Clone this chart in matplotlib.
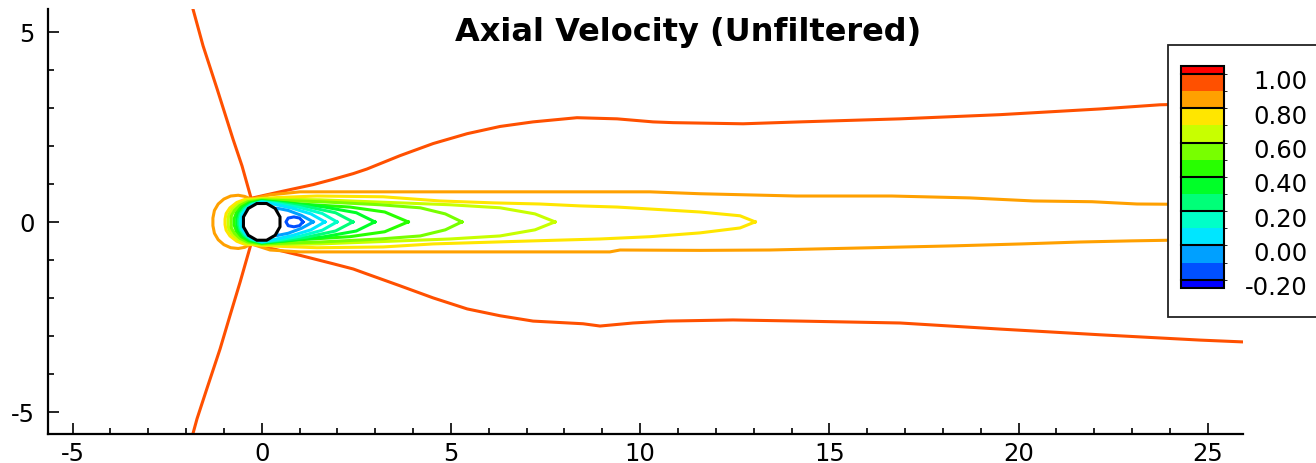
import matplotlib.pyplot as plt
import numpy as np
from matplotlib.colors import ListedColormap, BoundaryNorm
from matplotlib.cm import ScalarMappable
from matplotlib.patches import Rectangle, RegularPolygon
from matplotlib.ticker import MultipleLocator
from matplotlib.transforms import offset_copy

plt.rcParams['font.family'] = ['DejaVu Sans']
plt.rcParams['axes.unicode_minus'] = False

# legend levels and colours (Tecplot-like rainbow)
cb_bounds = [-0.2, -0.1, 0.0, 0.1, 0.2, 0.3, 0.4, 0.5, 0.6, 0.7, 0.8, 0.9, 1.0]
cb_ticks = [-0.2, 0.0, 0.2, 0.4, 0.6, 0.8, 1.0]
band_colors = ['#0050ff', '#00a0ff', '#00e6ff', '#00ffc8', '#00ff78', '#00ff28',
               '#28ff00', '#78ff00', '#c8ff00', '#ffe600', '#ffa000', '#ff5000']
under_color = '#0000ff'
over_color = '#ff0000'

# cylinder
cyl_x, cyl_y, cyl_d = 0.0, 0.0, 1.0

# contour lines (x, y in diameters)
# U = 0.95, upper branch
far_upper_x = [-1.82, -1.55, -1.18, -0.76, -0.52, -0.28, 0.48, 1.36, 1.89, 2.42, 2.78,
               3.65, 4.53, 5.43, 6.30, 7.17, 8.33, 9.39, 10.34, 10.87, 12.72, 14.23,
               16.87, 19.51, 22.15, 23.74, 25.93]
far_upper_y = [5.61, 4.63, 3.50, 2.18, 1.47, 0.62, 0.79, 0.98, 1.12, 1.27, 1.39,
               1.74, 2.06, 2.32, 2.51, 2.63, 2.74, 2.71, 2.63, 2.61, 2.58, 2.63,
               2.71, 2.82, 2.97, 3.08, 3.13]
# U = 0.95, lower branch
far_lower_x = [-1.82, -1.71, -1.45, -1.10, -0.84, -0.57, -0.28, 1.01, 1.88, 2.42, 2.78,
               3.65, 4.53, 5.43, 6.30, 7.17, 8.49, 8.94, 9.81, 10.71, 12.45, 14.23,
               16.87, 19.51, 22.15, 24.80, 25.98]
far_lower_y = [-5.58, -5.18, -4.39, -3.34, -2.47, -1.58, -0.57, -0.88, -1.10, -1.24, -1.37,
               -1.68, -2.00, -2.29, -2.47, -2.61, -2.68, -2.74, -2.66, -2.61, -2.58, -2.61,
               -2.66, -2.82, -2.97, -3.11, -3.16]
# U = 0.85
orange_x = [25.93, 23.13, 21.94, 20.39, 18.72, 16.65, 14.12, 11.58, 10.26, 1.01, 0.22, -0.28,
            -0.45, -0.62, -0.82, -1.00, -1.15, -1.25, -1.29, -1.29, -1.25, -1.15, -1.00,
            -0.82, -0.62, -0.45, -0.28,
            0.22, 1.01, 9.20, 9.47, 11.58, 13.43, 16.13, 18.32, 20.09, 21.62, 22.97, 25.93]
orange_y = [0.45, 0.47, 0.53, 0.55, 0.63, 0.68, 0.68, 0.74, 0.79, 0.79, 0.71, 0.60,
            0.67, 0.70, 0.68, 0.60, 0.47, 0.30, 0.10, -0.10, -0.30, -0.47, -0.60,
            -0.68, -0.70, -0.67, -0.58,
            -0.74, -0.79, -0.79, -0.74, -0.75, -0.74, -0.68, -0.63, -0.58, -0.53, -0.50, -0.45]
# U = 0.75
yellow_x = [13.04, 12.64, 11.58, 9.39, 8.41, 7.35, 6.11, 4.71, 3.21, 1.46, 0.40, -0.20,
            -0.45, -0.66, -0.84, -0.94, -0.97, -0.97, -0.94, -0.84, -0.66, -0.45,
            -0.20, 0.40, 1.46, 3.21, 4.53, 7.17, 8.94, 10.26, 11.58, 12.64, 13.04]
yellow_y = [0.0, 0.16, 0.26, 0.39, 0.42, 0.47, 0.50, 0.55, 0.66, 0.68, 0.64, 0.60,
            0.59, 0.51, 0.37, 0.22, 0.07, -0.07, -0.22, -0.37, -0.51, -0.59,
            -0.60, -0.64, -0.68, -0.66, -0.58, -0.50, -0.45, -0.39, -0.29, -0.16, 0.0]
# U = 0.65
lime_x = [7.75, 7.22, 6.30, 4.98, 3.65, 1.54, 0.0, -0.40, -0.62, -0.78, -0.87, -0.89,
          -0.89, -0.87, -0.78, -0.62, -0.40, 0.0, 1.54, 3.65, 4.98, 6.30, 7.22, 7.75]
lime_y = [0.0, 0.21, 0.37, 0.45, 0.50, 0.58, 0.60, 0.56, 0.46, 0.33, 0.19, 0.06,
          -0.06, -0.19, -0.33, -0.46, -0.56, -0.60, -0.58, -0.50, -0.45, -0.37, -0.21, 0.0]
# U = 0.55
lgreen_x = [5.29, 4.85, 4.19, 3.13, 1.54, 0.0, -0.37, -0.58, -0.72, -0.80, -0.81,
            -0.81, -0.80, -0.72, -0.58, -0.37, 0.0, 1.54, 3.13, 4.19, 4.85, 5.29]
lgreen_y = [0.0, 0.21, 0.37, 0.45, 0.53, 0.58, 0.53, 0.43, 0.30, 0.17, 0.05,
            -0.05, -0.17, -0.30, -0.43, -0.53, -0.58, -0.53, -0.45, -0.37, -0.21, 0.0]
# U = 0.45
green_x = [3.87, 3.25, 2.33, 1.01, 0.0, -0.34, -0.54, -0.67, -0.73, -0.73, -0.67, -0.54,
           -0.34, 0.0, 1.01, 2.33, 3.25, 3.87]
green_y = [0.0, 0.26, 0.39, 0.47, 0.56, 0.50, 0.39, 0.24, 0.08, -0.08, -0.24, -0.39,
           -0.50, -0.56, -0.47, -0.39, -0.26, 0.0]
# U = 0.35
green2_x = [2.99, 2.50, 1.60, 0.60, 0.0, -0.32, -0.50, -0.62, -0.66, -0.66, -0.62, -0.50,
            -0.32, 0.0, 0.60, 1.60, 2.50, 2.99]
green2_y = [0.0, 0.24, 0.40, 0.50, 0.55, 0.48, 0.37, 0.22, 0.07, -0.07, -0.22, -0.37,
            -0.48, -0.55, -0.50, -0.40, -0.24, 0.0]
# U = 0.25
teal_x = [2.41, 1.95, 1.20, 0.50, 0.0, -0.30, -0.47, -0.57, -0.61, -0.61, -0.57, -0.47,
          -0.30, 0.0, 0.50, 1.20, 1.95, 2.41]
teal_y = [0.0, 0.24, 0.40, 0.49, 0.54, 0.46, 0.35, 0.21, 0.07, -0.07, -0.21, -0.35,
          -0.46, -0.54, -0.49, -0.40, -0.24, 0.0]
# U = 0.15
aqua_x = [1.99, 1.60, 1.00, 0.40, 0.0, -0.28, -0.44, -0.54, -0.57, -0.57, -0.54, -0.44,
          -0.28, 0.0, 0.40, 1.00, 1.60, 1.99]
aqua_y = [0.0, 0.22, 0.38, 0.48, 0.53, 0.45, 0.33, 0.20, 0.07, -0.07, -0.20, -0.33,
          -0.45, -0.53, -0.48, -0.38, -0.22, 0.0]
# U = 0.05
cyan_x = [1.67, 1.30, 0.80, 0.35, 0.0, -0.26, -0.42, -0.51, -0.54, -0.54, -0.51, -0.42,
          -0.26, 0.0, 0.35, 0.80, 1.30, 1.67]
cyan_y = [0.0, 0.21, 0.36, 0.46, 0.52, 0.44, 0.32, 0.19, 0.06, -0.06, -0.19, -0.32,
          -0.44, -0.52, -0.46, -0.36, -0.21, 0.0]
# U = -0.05
lblue_x = [1.36, 1.05, 0.70, 0.40, 0.40, 0.70, 1.05, 1.36]
lblue_y = [0.0, 0.17, 0.30, 0.36, -0.36, -0.30, -0.17, 0.0]
# U = -0.15
blue_x = [1.09, 1.00, 0.85, 0.70, 0.64, 0.70, 0.85, 1.00, 1.09]
blue_y = [0.0, 0.10, 0.13, 0.10, 0.0, -0.10, -0.13, -0.10, 0.0]

lines = [
    (0.95, far_upper_x, far_upper_y), (0.95, far_lower_x, far_lower_y),
    (0.85, orange_x, orange_y), (0.75, yellow_x, yellow_y),
    (0.65, lime_x, lime_y), (0.55, lgreen_x, lgreen_y),
    (0.45, green_x, green_y), (0.35, green2_x, green2_y),
    (0.25, teal_x, teal_y), (0.15, aqua_x, aqua_y),
    (0.05, cyan_x, cyan_y), (-0.05, lblue_x, lblue_y),
    (-0.15, blue_x, blue_y),
]

cmap = ListedColormap(band_colors).with_extremes(under=under_color, over=over_color)
norm = BoundaryNorm(cb_bounds, cmap.N)

fig = plt.figure(figsize=(13.16, 4.64), dpi=100)
ax = fig.add_axes([0.0367, 0.0625, 0.9078, 0.916])

for level, xs, ys in lines:
    ax.plot(xs, ys, color=cmap(norm(level)), lw=2.2, solid_joinstyle='round')

cyl = RegularPolygon((cyl_x, cyl_y), numVertices=12, radius=cyl_d / 2,
                     orientation=np.pi / 12, fc='white', ec='black', lw=2.2, zorder=4)
ax.add_patch(cyl)

ax.set_xlim(-5.64, 25.93)
ax.set_ylim(-5.58, 5.6)
ax.spines[['top', 'right']].set_visible(False)
ax.spines[['left', 'bottom']].set_linewidth(1.6)
ax.xaxis.set_major_locator(MultipleLocator(5))
ax.xaxis.set_minor_locator(MultipleLocator(1))
ax.yaxis.set_major_locator(MultipleLocator(5))
ax.yaxis.set_minor_locator(MultipleLocator(1))
ax.tick_params(which='both', direction='in', width=1.2)
ax.tick_params(which='major', length=8, labelsize=17.5)
ax.tick_params(which='minor', length=4.5)
ax.tick_params(axis='x', which='major', pad=5)
ax.tick_params(axis='y', which='major', pad=10)

fig.text(0.5232, 0.929, 'Axial Velocity (Unfiltered)', fontsize=23,
         fontweight='bold', ha='center', va='center')

# legend box with colour bar
box = Rectangle((0.8875, 0.3147), 0.2, 0.586, transform=fig.transFigure,
                fc='white', ec='#222222', lw=1.3, zorder=3)
fig.add_artist(box)

cax = fig.add_axes([0.8974, 0.3772, 0.0327, 0.479], zorder=5)
cb = fig.colorbar(ScalarMappable(norm=norm, cmap=cmap), cax=cax, extend='both',
                  extendrect=True, extendfrac=0.04, ticks=[])
cb.outline.set_linewidth(1.5)
label_tr = offset_copy(cax.get_yaxis_transform(), fig=fig, y=-5, units='dots')
for v in cb_ticks:
    cax.axhline(v, color='black', lw=1.5, clip_on=False)
    cax.text(2.95, v, f'{v:.2f}', transform=label_tr,
             ha='right', va='center_baseline', fontsize=17.5)

fig.savefig('out.png', dpi=100)
